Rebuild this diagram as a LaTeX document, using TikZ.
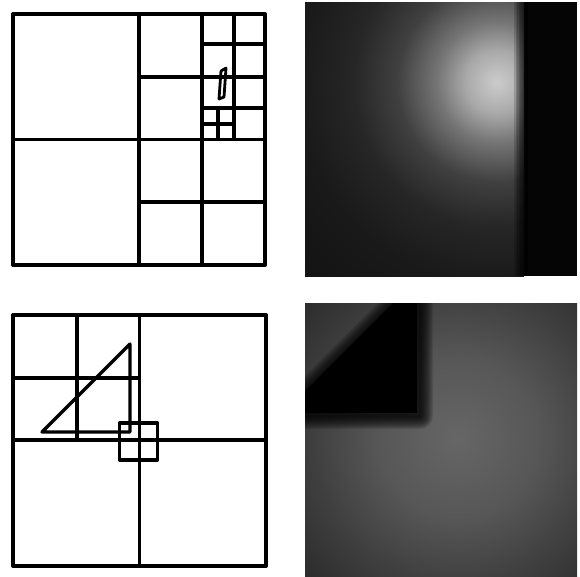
\documentclass[tikz,border=0pt]{standalone}
\usepackage{tikz}

% soft spots for the two rendered images
\pgfdeclareradialshading{spotA}{\pgfpoint{0bp}{0bp}}{%
  color(0bp)=(white!80!black); color(2bp)=(white!66!black);
  color(3.75bp)=(white!46!black); color(6.25bp)=(white!25!black);
  color(9bp)=(white!15!black); color(12.5bp)=(white!10!black);
  color(18bp)=(white!7!black); color(25bp)=(white!6!black);
  color(50bp)=(white!6!black)}
\pgfdeclareradialshading{spotB}{\pgfpoint{0bp}{0bp}}{%
  color(0bp)=(white!40!black); color(5bp)=(white!34!black);
  color(9bp)=(white!25!black); color(13bp)=(white!17!black);
  color(25bp)=(white!12!black); color(50bp)=(white!12!black)}

\begin{document}
\begin{tikzpicture}[x=1pt,y=-1pt,
  grid/.style={line width=3.3pt},
  frame/.style={line width=3.9pt,line join=round}]
  \useasboundingbox (0,0) rectangle (580,576);

  % top left: quadtree round the thin shape
  \draw[frame] (13,14) rectangle (265,265);
  \draw[grid] (139,14) -- (139,265) (13,139.5) -- (265,139.5);
  \draw[grid] (202,14) -- (202,265) (139,77) -- (265,77) (139,202) -- (265,202);
  \draw[grid] (234,14) -- (234,139.5) (202,44) -- (265,44) (202,108) -- (265,108);
  \draw[grid] (218,108) -- (218,139.5) (202,124) -- (234,124);
  \draw[line width=2.8pt,line join=round] (226,68) -- (221,71) -- (219,99) -- (224,97) -- cycle;

  % bottom left: quadtree round triangle and square
  \draw[frame] (13,315) rectangle (266,566);
  \draw[grid] (139.5,315) -- (139.5,566) (13,440) -- (266,440);
  \draw[grid] (77,315) -- (77,440) (13,378) -- (139.5,378);
  \draw[grid,line join=round] (42,432) -- (130,344) -- (130,432) -- cycle;
  \draw[grid,line join=round] (119.5,423) rectangle (157.5,460);

  % top right image
  \fill[white!6!black] (305,2) rectangle (577,276);
  \begin{scope}
    \clip (305,2) rectangle (524,276);
    \shade[shading=spotA] (497,82) circle (400pt);
  \end{scope}
  \foreach \i in {0,...,9}
    \fill[black,opacity=0.16] (514+1.5*\i,2) rectangle (577,276);
  \fill[white!2!black] (528,2) rectangle (577,276);

  % bottom right image
  \begin{scope}
    \clip (305,303) rectangle (577,576);
    \shade[shading=spotB] (458,438) circle (400pt);
    \foreach \w in {2,4,...,26}
      \draw[line width=\w pt,black,opacity=0.1,line join=round]
        (305,394) -- (396,303) -- (420,303) -- (420,416) -- (305,416) -- cycle;
    \fill[black] (305,391) -- (393,303) -- (417,303) -- (417,413) -- (305,413) -- cycle;
  \end{scope}
\end{tikzpicture}
\end{document}
